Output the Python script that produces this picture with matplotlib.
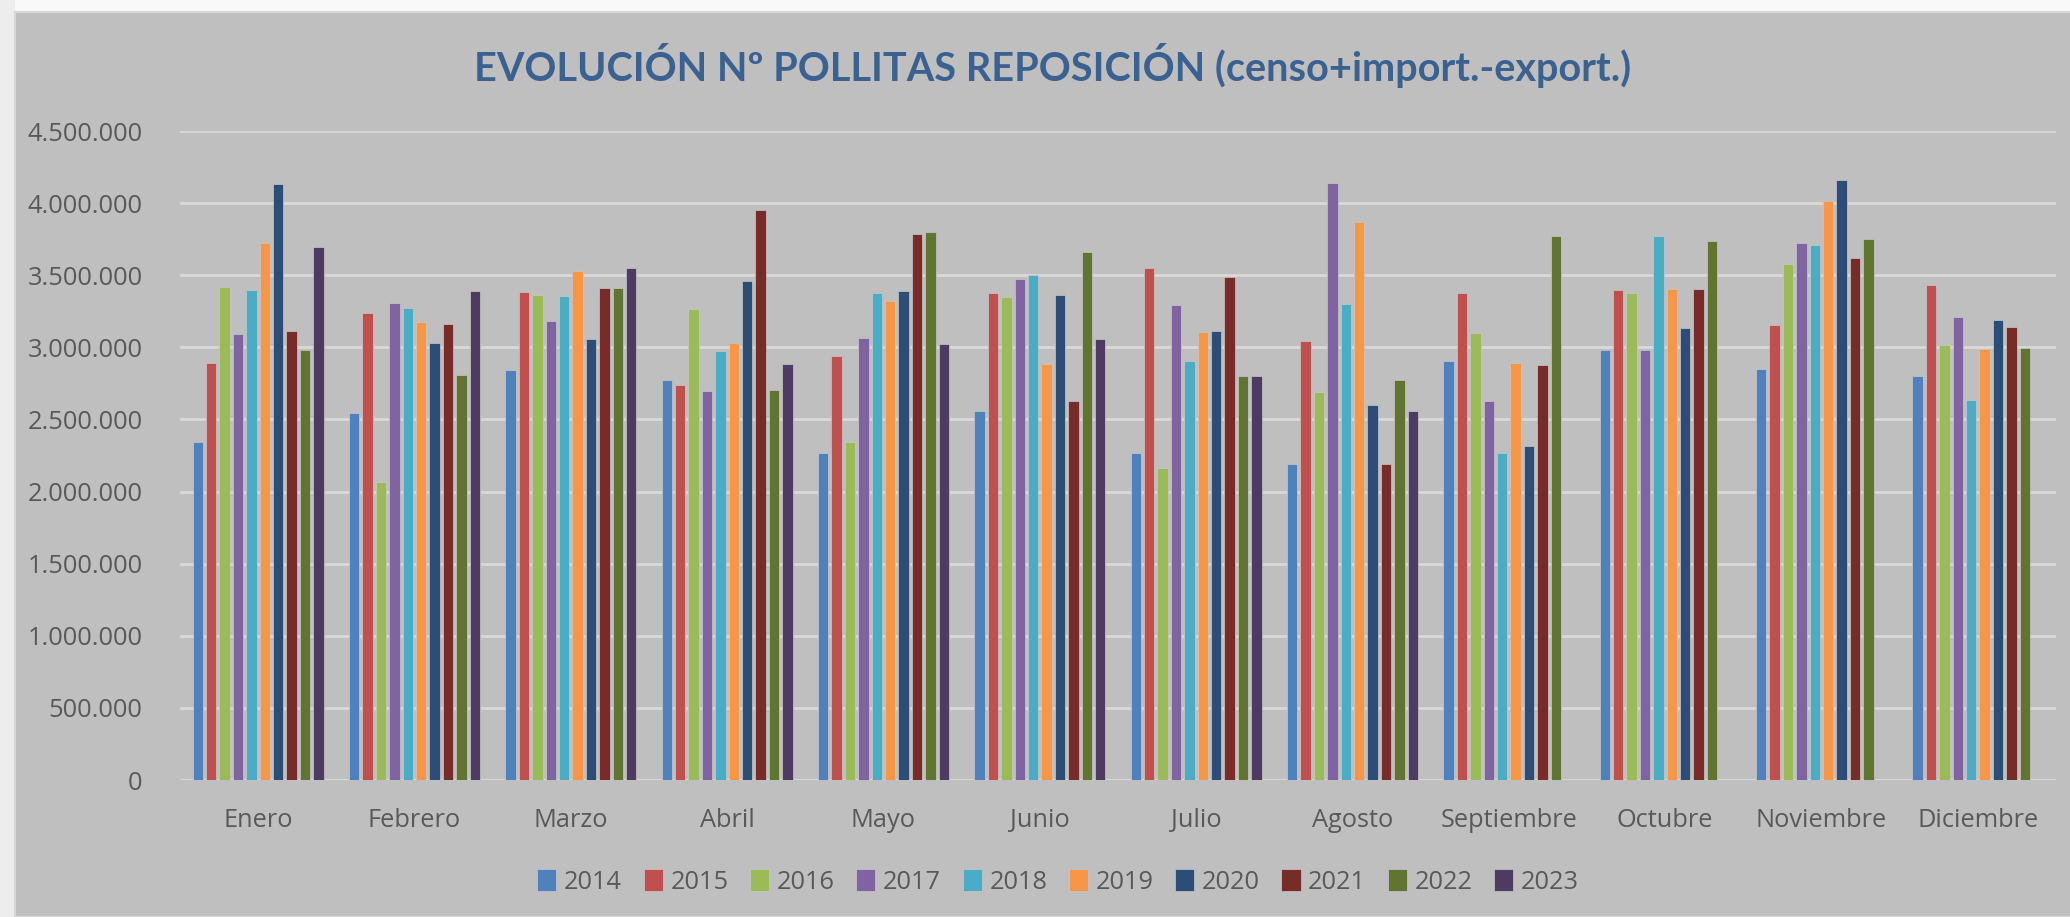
import numpy as np
import matplotlib.pyplot as plt
from matplotlib.patches import Rectangle
from matplotlib.ticker import FuncFormatter

months = ['Enero', 'Febrero', 'Marzo', 'Abril', 'Mayo', 'Junio', 'Julio',
          'Agosto', 'Septiembre', 'Octubre', 'Noviembre', 'Diciembre']
years = ['2014', '2015', '2016', '2017', '2018', '2019', '2020', '2021', '2022', '2023']

nan = np.nan
# one list per year, values Enero..Diciembre
v2014 = [2346000, 2547000, 2841000, 2773000, 2269000, 2556000, 2269000, 2188000, 2906000, 2984000, 2850000, 2804000]
v2015 = [2894000, 3240000, 3383000, 2742000, 2943000, 3377000, 3550000, 3045000, 3377000, 3401000, 3157000, 3432000]
v2016 = [3420000, 2067000, 3364000, 3265000, 2343000, 3349000, 2163000, 2693000, 3101000, 3377000, 3578000, 3015000]
v2017 = [3095000, 3305000, 3185000, 2699000, 3064000, 3473000, 3296000, 4141000, 2631000, 2980000, 3720000, 3210000]
v2018 = [3400000, 3271000, 3355000, 2974000, 3380000, 3500000, 2906000, 3302000, 2266000, 3770000, 3708000, 2637000]
v2019 = [3726000, 3179000, 3528000, 3030000, 3321000, 2881000, 3107000, 3869000, 2888000, 3404000, 4014000, 2990000]
v2020 = [4132000, 3033000, 3058000, 3463000, 3392000, 3361000, 3114000, 2597000, 2315000, 3132000, 4160000, 3188000]
v2021 = [3110000, 3160000, 3410000, 3952000, 3785000, 2631000, 3488000, 2188000, 2875000, 3404000, 3618000, 3141000]
v2022 = [2980000, 2807000, 3414000, 2705000, 3797000, 3664000, 2801000, 2776000, 3770000, 3736000, 3751000, 2993000]
v2023 = [3695000, 3392000, 3550000, 2881000, 3024000, 3055000, 2800000, 2556000, nan, nan, nan, nan]
series = [v2014, v2015, v2016, v2017, v2018, v2019, v2020, v2021, v2022, v2023]

colors = ['#4F81BD', '#C0504D', '#9BBB59', '#8064A2', '#4BACC6',
          '#F79646', '#2C4D75', '#772C2A', '#5F7530', '#4D3B62']

W, H = 2070, 917
fig = plt.figure(figsize=(W / 100, H / 100), dpi=100, facecolor='#BFBFBF')

# white margin at top and left of the chart frame
fig.patches.append(Rectangle((0, 1 - 12 / H), 1, 12 / H, transform=fig.transFigure,
                             facecolor='#F9F9F9', edgecolor='none', zorder=0))
fig.patches.append(Rectangle((0, 0), 15 / W, 1, transform=fig.transFigure,
                             facecolor='#EDEDED', edgecolor='none', zorder=0))
fig.patches.append(Rectangle((15 / W, 0), 1, 1 - 12 / H, transform=fig.transFigure,
                             facecolor='none', edgecolor='#D8D8D8', lw=1.5, zorder=1))

ax = fig.add_axes([180 / W, (H - 780) / H, (2056 - 180) / W, (780 - 131) / H])
ax.set_facecolor('#BFBFBF')

x = np.arange(len(months))
slot = 0.0857
for i, (yr, vals, c) in enumerate(zip(years, series, colors)):
    ax.bar(x + (i - 4.5) * slot, vals, width=slot * 0.78, color=c, label=yr,
           edgecolor='#C8C8C8', linewidth=0.5, zorder=3)

ax.set_xlim(-0.5, 11.5)
ax.set_ylim(0, 4500000)
ax.set_yticks(np.arange(0, 4500001, 500000))
ax.yaxis.set_major_formatter(FuncFormatter(lambda v, p: f'{int(v):,}'.replace(',', '.')))
ax.set_xticks(x)
ax.set_xticklabels(months)
ax.grid(axis='y', color='#D9D9D9', linewidth=2, zorder=1)
ax.tick_params(length=0, labelsize=18.3, colors='#595959', labelfontfamily='Open Sans')
ax.tick_params(axis='y', pad=27)
ax.tick_params(axis='x', pad=20)
for s in ax.spines.values():
    s.set_visible(False)

fig.text(1053 / W, 1 - 65 / H, 'EVOLUCIÓN Nº POLLITAS REPOSICIÓN (censo+import.-export.)',
         ha='center', va='center', fontsize=28.5, fontweight='bold', color='#3A6190',
         family='Lato')

leg = fig.legend(loc='center', bbox_to_anchor=(1058 / W, 1 - 882 / H), ncol=10,
                 frameon=False, handlelength=0.75, handleheight=0.95, handletextpad=0.3,
                 columnspacing=0.85, prop={'family': 'Open Sans', 'size': 18.3})
for t in leg.get_texts():
    t.set_color('#595959')

fig.savefig('out.png', dpi=100, facecolor=fig.get_facecolor())
